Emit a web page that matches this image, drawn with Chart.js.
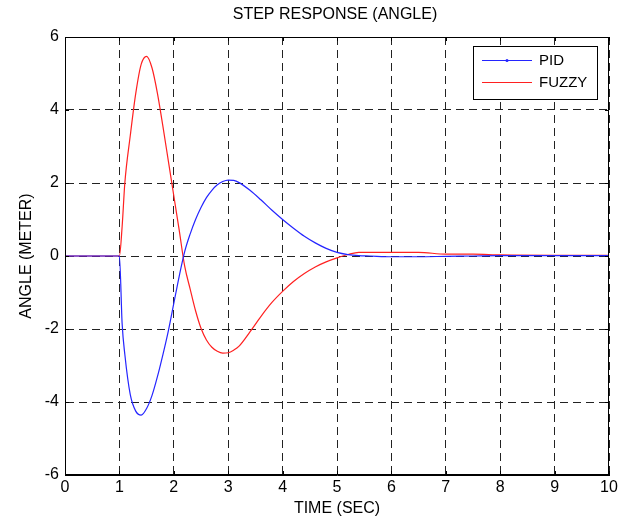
<!DOCTYPE html>
<html lang="en">
<head>
<meta charset="UTF-8">
<title>STEP RESPONSE (ANGLE)</title>
<script src="https://cdn.jsdelivr.net/npm/chart.js"></script>
<style>
  html, body { margin: 0; padding: 0; background: #fff; }
  #wrap { width: 629px; height: 522px; }
</style>
</head>
<body>
<div id="wrap"><canvas id="chart"></canvas></div>
<script>
// data
const timeSec = [0, 1, 1.05, 1.1, 1.2, 1.3, 1.4, 1.5, 1.6, 1.7, 1.8, 1.9, 2.0, 2.1, 2.2, 2.3, 2.4, 2.5, 2.6, 2.7, 2.8, 2.9, 3.0, 3.1, 3.2, 3.4, 3.6, 3.8, 4.0, 4.2, 4.4, 4.6, 4.8, 5.0, 5.2, 5.4, 5.6, 6.0, 6.5, 7.0, 7.5, 8, 9, 10];
const pidAngle = [0, 0, -1.85, -2.7, -3.8, -4.25, -4.36, -4.18, -3.82, -3.3, -2.7, -2.05, -1.3, -0.55, 0.12, 0.6, 1.0, 1.33, 1.6, 1.8, 1.95, 2.04, 2.08, 2.07, 2.01, 1.8, 1.54, 1.26, 1.0, 0.76, 0.54, 0.36, 0.21, 0.1, 0.04, 0.01, 0, -0.02, -0.02, -0.01, 0, 0.01, 0.01, 0.01];
const fuzzyAngle = [0, 0, 0.8, 2.0, 3.3, 4.45, 5.25, 5.47, 5.15, 4.45, 3.55, 2.6, 1.65, 0.7, -0.28, -0.9, -1.5, -1.98, -2.3, -2.5, -2.61, -2.66, -2.65, -2.58, -2.47, -2.08, -1.66, -1.28, -0.97, -0.7, -0.48, -0.3, -0.16, -0.05, 0.04, 0.1, 0.1, 0.1, 0.1, 0.05, 0.05, 0.03, 0.02, 0.02];
const seriesNames = ['PID', 'FUZZY'];
const xTicks = [0, 1, 2, 3, 4, 5, 6, 7, 8, 9, 10];
const yTicks = [-6, -4, -2, 0, 2, 4, 6];

const FONT = 'Arial, "Liberation Sans", sans-serif';

// frame, inward ticks, title and legend (matlab look)
const matlabBits = {
  id: 'matlabBits',
  afterDraw(chart) {
    const { ctx, chartArea: a, scales } = chart;
    ctx.save();
    ctx.strokeStyle = '#000';
    ctx.lineWidth = 1;
    ctx.strokeRect(a.left + 0.5, a.top + 0.5, a.right - a.left - 1, a.bottom - a.top - 1);
    ctx.beginPath();
    xTicks.forEach(v => {
      const x = Math.round(scales.x.getPixelForValue(v)) + 0.5;
      ctx.moveTo(x, a.bottom); ctx.lineTo(x, a.bottom - 4);
      ctx.moveTo(x, a.top); ctx.lineTo(x, a.top + 4);
    });
    yTicks.forEach(v => {
      const y = Math.round(scales.y.getPixelForValue(v)) + 0.5;
      ctx.moveTo(a.left, y); ctx.lineTo(a.left + 4, y);
      ctx.moveTo(a.right, y); ctx.lineTo(a.right - 4, y);
    });
    ctx.stroke();

    // title
    ctx.fillStyle = '#000';
    ctx.font = '16px ' + FONT;
    ctx.textAlign = 'center';
    ctx.textBaseline = 'middle';
    ctx.fillText('STEP RESPONSE (ANGLE)', (a.left + a.right) / 2 - 2, 15);

    // legend box
    const bx = 473, by = 46, bw = 124, bh = 53;
    ctx.fillStyle = '#fff';
    ctx.fillRect(bx, by, bw, bh);
    ctx.strokeStyle = '#000';
    ctx.strokeRect(bx + 0.5, by + 0.5, bw, bh);
    const cols = chart.data.datasets.map(d => d.borderColor);
    [60, 82].forEach((y, i) => {
      ctx.strokeStyle = cols[i];
      ctx.lineWidth = 1.2;
      ctx.beginPath();
      ctx.moveTo(482, y + 0.5); ctx.lineTo(532, y + 0.5);
      ctx.stroke();
      if (i === 0) {
        ctx.fillStyle = cols[i];
        ctx.beginPath(); ctx.arc(507, y + 0.5, 1.5, 0, Math.PI * 2); ctx.fill();
      }
      ctx.fillStyle = '#000';
      ctx.font = '15px ' + FONT;
      ctx.textAlign = 'left';
      ctx.fillText(seriesNames[i], 539, y + 1);
    });
    ctx.restore();
  }
};

const mk = (arr) => timeSec.map((t, i) => ({ x: t, y: arr[i] }));

new Chart(document.getElementById('chart'), {
  type: 'line',
  data: {
    datasets: [{
      label: seriesNames[0],
      data: mk(pidAngle),
      borderColor: '#2424ff',
      borderWidth: 1.2,
      pointRadius: 0,
      cubicInterpolationMode: 'monotone'
    }, {
      label: seriesNames[1],
      data: mk(fuzzyAngle),
      borderColor: '#ff2020',
      borderWidth: 1.2,
      pointRadius: 0,
      cubicInterpolationMode: 'monotone'
    }]
  },
  options: {
    responsive: true,
    maintainAspectRatio: false,
    animation: false,
    layout: { padding: { top: 37, right: 20, left: 0, bottom: 0 } },
    plugins: { legend: { display: false }, tooltip: { enabled: false } },
    scales: {
      x: {
        type: 'linear',
        min: 0, max: 10,
        afterFit: s => { s.height = 47; },
        afterBuildTicks: s => { s.ticks = xTicks.map(v => ({ value: v })); },
        ticks: { color: '#000', font: { family: FONT, size: 16 }, padding: 3, maxRotation: 0 },
        grid: { color: '#222', lineWidth: 1, drawTicks: false },
        border: { display: true, color: '#000', dash: [8, 5] },
        title: { display: true, text: 'TIME (SEC)', color: '#000', font: { family: FONT, size: 16 }, padding: { top: 0, bottom: 3.5 } }
      },
      y: {
        min: -6, max: 6,
        afterFit: s => { s.width = 65; },
        afterBuildTicks: s => { s.ticks = yTicks.map(v => ({ value: v })); },
        ticks: { color: '#000', font: { family: FONT, size: 16 }, padding: 6 },
        grid: { color: '#222', lineWidth: 1, drawTicks: false },
        border: { display: true, color: '#000', dash: [8, 5] },
        title: { display: true, text: 'ANGLE (METER)', color: '#000', font: { family: FONT, size: 16 }, padding: { top: 17, bottom: 0 } }
      }
    }
  },
  plugins: [matlabBits]
});
</script>
</body>
</html>
